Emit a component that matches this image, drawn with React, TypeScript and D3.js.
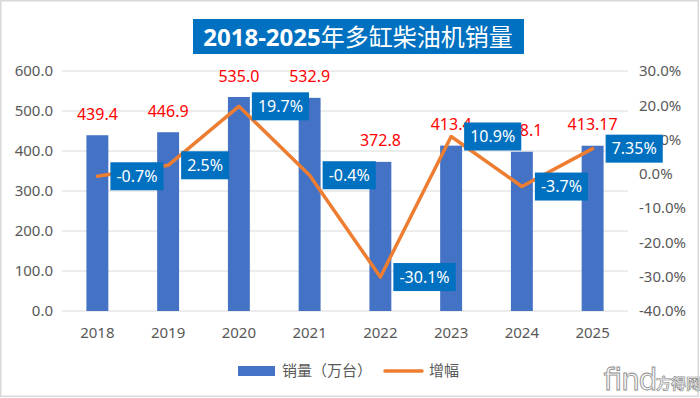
import React from "react";
import * as d3 from "d3";

// data
const years = ["2018", "2019", "2020", "2021", "2022", "2023", "2024", "2025"];
const sales = [439.4, 446.9, 535.0, 532.9, 372.8, 413.4, 398.1, 413.17];
const salesLabels = ["439.4", "446.9", "535.0", "532.9", "372.8", "413.4", "398.1", "413.17"];
const growth = [-0.7, 2.5, 19.7, -0.4, -30.1, 10.9, -3.7, 7.35];
const growthLabels = ["-0.7%", "2.5%", "19.7%", "-0.4%", "-30.1%", "10.9%", "-3.7%", "7.35%"];
const leftTicks = [0, 100, 200, 300, 400, 500, 600];
const rightTicks = [-40, -30, -20, -10, 0, 10, 20, 30];

const W = 700;
const H = 398;
const margin = { top: 71, right: 72, bottom: 87, left: 62 };
const FONT = "'Noto Sans', 'Noto Sans CJK SC', sans-serif";
const CJK = "'Noto Sans CJK SC', 'Noto Sans', sans-serif";

// rough text width for the growth boxes (Noto Sans, 16px)
const charW = (c: string) =>
  c === "." ? 0.268 : c === "%" ? 0.838 : c === "-" ? 0.322 : 0.572;
const textWidth = (s: string, size: number) =>
  s.split("").reduce((a, c) => a + charW(c), 0) * size;

const App = () => {
  const x = d3
    .scaleBand()
    .domain(years)
    .range([margin.left, W - margin.right])
    .padding(0);
  const yL = d3.scaleLinear().domain([0, 600]).range([H - margin.bottom, margin.top]);
  const yR = d3.scaleLinear().domain([-40, 30]).range([H - margin.bottom, margin.top]);

  const barW = x.bandwidth() * 0.31;
  const cx = (d: string) => (x(d) as number) + x.bandwidth() / 2;

  const line = d3
    .line<number>()
    .x((d, i) => cx(years[i]))
    .y((d) => yR(d));

  return (
    <svg
      width={W}
      height={H}
      style={{ position: "absolute", left: 0, top: 0, background: "#fff" }}
    >
      <rect x={0.75} y={0.75} width={W - 2.5} height={H - 2.5} fill="#fff" stroke="#d9d9d9" strokeWidth={1.5} />

      {/* title */}
      <rect x={193} y={19} width={331} height={35} fill="#0070C0" />
      <text x={358} y={46} textAnchor="middle" fill="#fff" fontSize={24} fontFamily={CJK}>
        <tspan fontWeight="bold" fontFamily="'Open Sans', 'Noto Sans', sans-serif">2018-2025</tspan>
        <tspan>年多缸柴油机销量</tspan>
      </text>

      {/* grid */}
      {leftTicks.map((t) => (
        <line
          key={"g" + t}
          x1={margin.left}
          x2={W - margin.right}
          y1={yL(t)}
          y2={yL(t)}
          stroke="#d9d9d9"
          strokeWidth={1}
        />
      ))}

      {/* left axis */}
      {leftTicks.map((t) => (
        <text
          key={"l" + t}
          x={53}
          y={yL(t)}
          dy="0.35em"
          textAnchor="end"
          fill="#595959"
          fontSize={15}
          fontFamily={FONT}
        >
          {t.toFixed(1)}
        </text>
      ))}

      {/* right axis */}
      {rightTicks.map((t) => (
        <text
          key={"r" + t}
          x={639}
          y={yR(t)}
          dy="0.35em"
          textAnchor="start"
          fill="#595959"
          fontSize={15}
          fontFamily={FONT}
        >
          {t.toFixed(1) + "%"}
        </text>
      ))}

      {/* x axis labels */}
      {years.map((d) => (
        <text
          key={"x" + d}
          x={cx(d)}
          y={333}
          dy="0.35em"
          textAnchor="middle"
          fill="#595959"
          fontSize={15}
          fontFamily={FONT}
        >
          {d}
        </text>
      ))}

      {/* bars */}
      {sales.map((v, i) => (
        <rect
          key={"b" + i}
          x={cx(years[i]) - barW / 2}
          y={yL(v)}
          width={barW}
          height={yL(0) - yL(v)}
          fill="#4472C4"
        />
      ))}

      {/* growth line */}
      <path
        d={line(growth) || ""}
        fill="none"
        stroke="#ED7D31"
        strokeWidth={3.5}
        strokeLinejoin="round"
        strokeLinecap="round"
      />

      {/* sales labels */}
      {sales.map((v, i) => (
        <text
          key={"s" + i}
          x={cx(years[i])}
          y={yL(v) - 21}
          dy="0.35em"
          textAnchor="middle"
          fill="#FF0000"
          fontSize={16}
          fontFamily={FONT}
        >
          {salesLabels[i]}
        </text>
      ))}

      {/* growth labels */}
      {growth.map((v, i) => {
        const tw = textWidth(growthLabels[i], 16);
        const bx = cx(years[i]) + 13;
        const by = yR(v);
        return (
          <g key={"p" + i}>
            <rect x={bx} y={by - 14} width={tw + 12} height={28} fill="#0070C0" />
            <text
              x={bx + 6 + tw / 2}
              y={by}
              dy="0.35em"
              textAnchor="middle"
              fill="#fff"
              fontSize={16}
              fontFamily={FONT}
            >
              {growthLabels[i]}
            </text>
          </g>
        );
      })}

      {/* legend */}
      <rect x={238} y={366} width={37} height={10} fill="#4472C4" />
      <text x={282} y={371} dy="0.35em" fill="#595959" fontSize={15} fontFamily={CJK}>
        销量（万台）
      </text>
      <line x1={385} x2={422} y1={371} y2={371} stroke="#ED7D31" strokeWidth={3.5} strokeLinecap="round" />
      <text x={429} y={371} dy="0.35em" fill="#595959" fontSize={15} fontFamily={CJK}>
        增幅
      </text>

      {/* watermark */}
      <text
        x={602}
        y={390}
        fill="#f2f2f2"
        stroke="#8c8c8c"
        strokeWidth={0.8}
        fontSize={30}
        fontFamily="'DejaVu Sans', sans-serif"
        textLength={54}
      >
        find
      </text>
      <text x={656} y={389} fill="#f2f2f2" stroke="#8c8c8c" strokeWidth={0.7} fontSize={15} fontWeight="bold" fontFamily={CJK}>
        方得网
      </text>
    </svg>
  );
};

export default App;
